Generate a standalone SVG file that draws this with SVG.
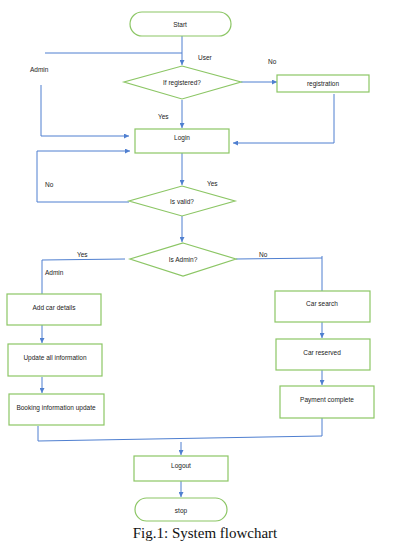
<svg xmlns="http://www.w3.org/2000/svg" width="420" height="548" viewBox="0 0 420 548">
<defs>
<style>
.n{fill:#fff;stroke:#8cc665;stroke-width:1.2}
.c{fill:none;stroke:#4f7fd0;stroke-width:1}
.t{font-family:"Liberation Sans",Arial,sans-serif;font-size:6.5px;fill:#222;text-anchor:middle;dominant-baseline:central}
.l{font-family:"Liberation Sans",Arial,sans-serif;font-size:6.5px;fill:#222}
.cap{font-family:"Liberation Serif","Times New Roman",serif;font-size:15px;fill:#111;text-anchor:middle}
</style>
<marker id="a" viewBox="0 0 6 6" refX="6" refY="3" markerWidth="5" markerHeight="5" orient="auto"><path d="M0,0L6,3L0,6z" fill="#4f7fd0"/></marker>
</defs>
<rect width="420" height="548" fill="#fff"/>
<g id="connectors">
<path class="c" d="M182,36V65" marker-end="url(#a)"/>
<path class="c" d="M45,53H182"/>
<path class="c" d="M241,82H277" marker-end="url(#a)"/>
<path class="c" d="M182,100V128" marker-end="url(#a)"/>
<path class="c" d="M41,85V136H129" marker-end="url(#a)"/>
<path class="c" d="M334,94V143H233" marker-end="url(#a)"/>
<path class="c" d="M182,153V185" marker-end="url(#a)"/>
<path class="c" d="M129,202H37V151H130" marker-end="url(#a)"/>
<path class="c" d="M182,216V242" marker-end="url(#a)"/>
<path class="c" d="M125,259L42,260V294"/>
<path class="c" d="M236,259L322,258"/>
<path class="c" d="M322,256V291"/>
<path class="c" d="M42,325V343" marker-end="url(#a)"/>
<path class="c" d="M42,377V393" marker-end="url(#a)"/>
<path class="c" d="M322,322V338" marker-end="url(#a)"/>
<path class="c" d="M322,370V385" marker-end="url(#a)"/>
<path class="c" d="M38,426V441L322,436V418"/>
<path class="c" d="M181,442V455" marker-end="url(#a)"/>
<path class="c" d="M181,481V497" marker-end="url(#a)"/>
</g>
<g id="start"><rect class="n" x="130" y="12" width="101" height="24" rx="12"/><text class="t" x="180" y="24">Start</text></g>
<g id="ifregistered"><polygon class="n" points="182,66 241,82 182,99 124,82"/><text class="t" x="182" y="82">If registered?</text></g>
<g id="registration"><rect class="n" x="277" y="75" width="92" height="17"/><text class="t" x="323" y="83">registration</text></g>
<g id="login"><rect class="n" x="135" y="129" width="94" height="24"/><text class="t" x="182" y="137">Login</text></g>
<g id="isvalid"><polygon class="n" points="182,186 235,201 182,216 129,201"/><text class="t" x="182" y="201">Is valid?</text></g>
<g id="isadmin"><polygon class="n" points="183,243 236,259 183,276 130,259"/><text class="t" x="183" y="259">Is Admin?</text></g>
<g id="addcar"><rect class="n" x="7" y="294" width="94" height="31"/><text class="t" x="54" y="307">Add car details</text></g>
<g id="updateall"><rect class="n" x="8" y="344" width="94" height="32"/><text class="t" x="55" y="357">Update all information</text></g>
<g id="booking"><rect class="n" x="9" y="394" width="95" height="31"/><text class="t" x="56" y="407">Booking information update</text></g>
<g id="carsearch"><rect class="n" x="275" y="291" width="95" height="31"/><text class="t" x="322" y="303">Car search</text></g>
<g id="carreserved"><rect class="n" x="276" y="339" width="94" height="31"/><text class="t" x="322" y="352">Car reserved</text></g>
<g id="payment"><rect class="n" x="280" y="386" width="94" height="32"/><text class="t" x="327" y="399">Payment complete</text></g>
<g id="logout"><rect class="n" x="134" y="456" width="94" height="25"/><text class="t" x="181" y="465">Logout</text></g>
<g id="stop"><rect class="n" x="135" y="498" width="92" height="23" rx="11.5"/><text class="t" x="181" y="510">stop</text></g>
<g id="labels">
<text class="l" x="198" y="60">User</text>
<text class="l" x="30" y="72">Admin</text>
<text class="l" x="268" y="64">No</text>
<text class="l" x="158" y="119">Yes</text>
<text class="l" x="45" y="187">No</text>
<text class="l" x="207" y="186">Yes</text>
<text class="l" x="77" y="257">Yes</text>
<text class="l" x="45" y="275">Admin</text>
<text class="l" x="259" y="257">No</text>
</g>
<text class="cap" x="205" y="538">Fig.1: System flowchart</text>
</svg>
